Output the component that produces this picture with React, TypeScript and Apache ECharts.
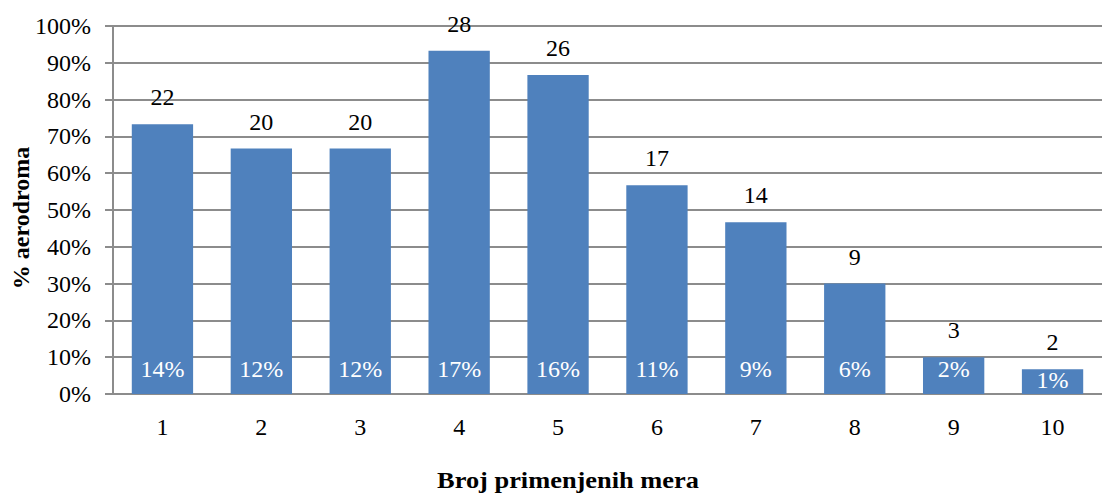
import React, { useEffect, useRef } from "react";
import * as echarts from "echarts";

const categories = ["1", "2", "3", "4", "5", "6", "7", "8", "9", "10"];
const percentAirports = [73.3, 66.7, 66.7, 93.3, 86.7, 56.7, 46.7, 30, 10, 6.7];
const counts = ["22", "20", "20", "28", "26", "17", "14", "9", "3", "2"];
const shares = ["14%", "12%", "12%", "17%", "16%", "11%", "9%", "6%", "2%", "1%"];
const yTicks = [0, 10, 20, 30, 40, 50, 60, 70, 80, 90, 100];

const FONT = "Liberation Serif";

export default function App() {
  const ref = useRef<HTMLDivElement>(null);
  useEffect(() => {
    if (!ref.current) return;
    const chart = echarts.init(ref.current, null, { renderer: "svg" });
    const shareData = percentAirports.map((v, i) => ({
      value: v,
      label: { distance: v < 8 ? 2 : 13 },
    }));
    chart.setOption({
      animation: false,
      backgroundColor: "#ffffff",
      textStyle: { fontFamily: FONT },
      grid: { left: 113, right: -11, top: 26, bottom: 103, containLabel: false },
      xAxis: {
        type: "category",
        data: categories,
        axisLine: { show: true, lineStyle: { color: "#8c8c8c", width: 2 } },
        axisTick: { show: false },
        axisLabel: { color: "#000", fontSize: 24, fontFamily: FONT, margin: 21 },
      },
      yAxis: {
        type: "value",
        min: yTicks[0],
        max: yTicks[yTicks.length - 1],
        interval: 10,
        axisLine: { show: true, lineStyle: { color: "#8c8c8c", width: 2 } },
        axisTick: { show: true, length: 8, lineStyle: { color: "#8c8c8c", width: 2 } },
        axisLabel: { color: "#000", fontSize: 24, fontFamily: FONT, margin: 22, formatter: "{value}%" },
        splitLine: { show: true, lineStyle: { color: "#8c8c8c", width: 2 } },
      },
      graphic: [
        {
          type: "text",
          x: 568,
          y: 480,
          scaleX: 1.1,
          style: {
            text: "Broj primenjenih mera",
            font: `bold 24px ${FONT}`,
            fill: "#000",
            align: "center",
            verticalAlign: "middle",
          },
        },
        {
          type: "text",
          x: 21,
          y: 218,
          rotation: Math.PI / 2,
          style: {
            text: "% aerodroma",
            font: `bold 24px ${FONT}`,
            fill: "#000",
            align: "center",
            verticalAlign: "middle",
          },
        },
      ],
      series: [
        {
          type: "bar",
          data: percentAirports,
          barCategoryGap: "38%",
          barGap: "-100%",
          itemStyle: { color: "#4F81BD" },
          label: {
            show: true,
            position: "top",
            distance: 15,
            color: "#000",
            fontSize: 24,
            fontFamily: FONT,
            formatter: (p: any) => counts[p.dataIndex],
          },
        },
        {
          type: "bar",
          data: shareData,
          barCategoryGap: "38%",
          barGap: "-100%",
          itemStyle: { color: "rgba(0,0,0,0)" },
          label: {
            show: true,
            position: "insideBottom",
            distance: 13,
            color: "#ffffff",
            fontSize: 24,
            fontFamily: FONT,
            formatter: (p: any) => shares[p.dataIndex],
          },
        },
      ],
    });
    return () => chart.dispose();
  }, []);
  return (
    <div
      ref={ref}
      style={{ position: "absolute", left: 0, top: 0, width: 1102, height: 497 }}
    />
  );
}
